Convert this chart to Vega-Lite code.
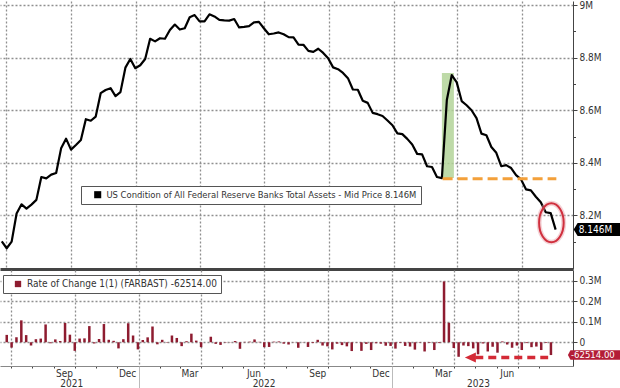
{
  "$schema": "https://vega.github.io/schema/vega-lite/v6.json",
  "padding": 0,
  "background": "white",
  "spacing": 1,
  "config": {
    "font": "Liberation Sans Narrow, DejaVu Sans Condensed, Liberation Sans, sans-serif",
    "view": {"stroke": null, "fill": null},
    "axis": {"labelFontSize": 10, "labelColor": "#333", "domainColor": "#444", "tickColor": "#444", "gridColor": "#8f8f8f", "gridDash": [2, 2], "gridWidth": 1.3, "gridOpacity": 1, "labelOverlap": false, "labelFlush": false, "labelBound": false}
  },
  "resolve": {"scale": {"color": "independent"}},
  "datasets": {
    "fed": [
      {"date": "2021-06-25", "assets": 8.101, "change": 0.036},
      {"date": "2021-07-02", "assets": 8.075, "change": -0.026},
      {"date": "2021-07-09", "assets": 8.100, "change": 0.025},
      {"date": "2021-07-16", "assets": 8.207, "change": 0.107},
      {"date": "2021-07-23", "assets": 8.242, "change": 0.035},
      {"date": "2021-07-30", "assets": 8.226, "change": -0.016},
      {"date": "2021-08-06", "assets": 8.241, "change": 0.015},
      {"date": "2021-08-13", "assets": 8.259, "change": 0.018},
      {"date": "2021-08-20", "assets": 8.346, "change": 0.087},
      {"date": "2021-08-27", "assets": 8.341, "change": -0.005},
      {"date": "2021-09-03", "assets": 8.355, "change": 0.014},
      {"date": "2021-09-10", "assets": 8.361, "change": 0.006},
      {"date": "2021-09-17", "assets": 8.455, "change": 0.094},
      {"date": "2021-09-24", "assets": 8.492, "change": 0.037},
      {"date": "2021-10-01", "assets": 8.450, "change": -0.042},
      {"date": "2021-10-08", "assets": 8.468, "change": 0.018},
      {"date": "2021-10-15", "assets": 8.487, "change": 0.019},
      {"date": "2021-10-22", "assets": 8.566, "change": 0.079},
      {"date": "2021-10-29", "assets": 8.560, "change": -0.006},
      {"date": "2021-11-05", "assets": 8.576, "change": 0.016},
      {"date": "2021-11-12", "assets": 8.665, "change": 0.089},
      {"date": "2021-11-19", "assets": 8.677, "change": 0.012},
      {"date": "2021-11-26", "assets": 8.684, "change": 0.007},
      {"date": "2021-12-03", "assets": 8.654, "change": -0.030},
      {"date": "2021-12-10", "assets": 8.669, "change": 0.015},
      {"date": "2021-12-17", "assets": 8.762, "change": 0.093},
      {"date": "2021-12-24", "assets": 8.795, "change": 0.033},
      {"date": "2021-12-31", "assets": 8.760, "change": -0.035},
      {"date": "2022-01-07", "assets": 8.771, "change": 0.011},
      {"date": "2022-01-14", "assets": 8.795, "change": 0.024},
      {"date": "2022-01-21", "assets": 8.872, "change": 0.077},
      {"date": "2022-01-28", "assets": 8.862, "change": -0.010},
      {"date": "2022-02-04", "assets": 8.874, "change": 0.012},
      {"date": "2022-02-11", "assets": 8.872, "change": -0.002},
      {"date": "2022-02-18", "assets": 8.905, "change": 0.033},
      {"date": "2022-02-25", "assets": 8.926, "change": 0.021},
      {"date": "2022-03-04", "assets": 8.907, "change": -0.019},
      {"date": "2022-03-11", "assets": 8.912, "change": 0.005},
      {"date": "2022-03-18", "assets": 8.954, "change": 0.042},
      {"date": "2022-03-25", "assets": 8.962, "change": 0.008},
      {"date": "2022-04-01", "assets": 8.938, "change": -0.024},
      {"date": "2022-04-08", "assets": 8.938, "change": 0.000},
      {"date": "2022-04-15", "assets": 8.965, "change": 0.027},
      {"date": "2022-04-22", "assets": 8.957, "change": -0.008},
      {"date": "2022-04-29", "assets": 8.944, "change": -0.013},
      {"date": "2022-05-06", "assets": 8.942, "change": -0.002},
      {"date": "2022-05-13", "assets": 8.941, "change": -0.001},
      {"date": "2022-05-20", "assets": 8.947, "change": 0.006},
      {"date": "2022-05-27", "assets": 8.915, "change": -0.032},
      {"date": "2022-06-03", "assets": 8.917, "change": 0.002},
      {"date": "2022-06-10", "assets": 8.920, "change": 0.003},
      {"date": "2022-06-17", "assets": 8.934, "change": 0.014},
      {"date": "2022-06-24", "assets": 8.936, "change": 0.002},
      {"date": "2022-07-01", "assets": 8.912, "change": -0.024},
      {"date": "2022-07-08", "assets": 8.889, "change": -0.023},
      {"date": "2022-07-15", "assets": 8.892, "change": 0.003},
      {"date": "2022-07-22", "assets": 8.896, "change": 0.004},
      {"date": "2022-07-29", "assets": 8.889, "change": -0.007},
      {"date": "2022-08-05", "assets": 8.878, "change": -0.011},
      {"date": "2022-08-12", "assets": 8.877, "change": -0.001},
      {"date": "2022-08-19", "assets": 8.850, "change": -0.027},
      {"date": "2022-08-26", "assets": 8.849, "change": -0.001},
      {"date": "2022-09-02", "assets": 8.826, "change": -0.023},
      {"date": "2022-09-09", "assets": 8.822, "change": -0.004},
      {"date": "2022-09-16", "assets": 8.834, "change": 0.012},
      {"date": "2022-09-23", "assets": 8.818, "change": -0.016},
      {"date": "2022-09-30", "assets": 8.798, "change": -0.020},
      {"date": "2022-10-07", "assets": 8.763, "change": -0.035},
      {"date": "2022-10-14", "assets": 8.756, "change": -0.007},
      {"date": "2022-10-21", "assets": 8.742, "change": -0.014},
      {"date": "2022-10-28", "assets": 8.722, "change": -0.020},
      {"date": "2022-11-04", "assets": 8.679, "change": -0.043},
      {"date": "2022-11-11", "assets": 8.678, "change": -0.001},
      {"date": "2022-11-18", "assets": 8.636, "change": -0.042},
      {"date": "2022-11-25", "assets": 8.628, "change": -0.008},
      {"date": "2022-12-02", "assets": 8.590, "change": -0.038},
      {"date": "2022-12-09", "assets": 8.585, "change": -0.005},
      {"date": "2022-12-16", "assets": 8.578, "change": -0.007},
      {"date": "2022-12-23", "assets": 8.561, "change": -0.017},
      {"date": "2022-12-30", "assets": 8.543, "change": -0.018},
      {"date": "2023-01-06", "assets": 8.512, "change": -0.031},
      {"date": "2023-01-13", "assets": 8.509, "change": -0.003},
      {"date": "2023-01-20", "assets": 8.491, "change": -0.018},
      {"date": "2023-01-27", "assets": 8.470, "change": -0.021},
      {"date": "2023-02-03", "assets": 8.434, "change": -0.036},
      {"date": "2023-02-10", "assets": 8.432, "change": -0.002},
      {"date": "2023-02-17", "assets": 8.387, "change": -0.045},
      {"date": "2023-02-24", "assets": 8.384, "change": -0.003},
      {"date": "2023-03-03", "assets": 8.346, "change": -0.038},
      {"date": "2023-03-10", "assets": 8.342, "change": -0.004},
      {"date": "2023-03-17", "assets": 8.639, "change": 0.297},
      {"date": "2023-03-24", "assets": 8.734, "change": 0.095},
      {"date": "2023-03-31", "assets": 8.706, "change": -0.028},
      {"date": "2023-04-07", "assets": 8.635, "change": -0.071},
      {"date": "2023-04-14", "assets": 8.619, "change": -0.016},
      {"date": "2023-04-21", "assets": 8.600, "change": -0.019},
      {"date": "2023-04-28", "assets": 8.570, "change": -0.030},
      {"date": "2023-05-05", "assets": 8.511, "change": -0.059},
      {"date": "2023-05-12", "assets": 8.505, "change": -0.006},
      {"date": "2023-05-19", "assets": 8.460, "change": -0.045},
      {"date": "2023-05-26", "assets": 8.438, "change": -0.022},
      {"date": "2023-06-02", "assets": 8.387, "change": -0.051},
      {"date": "2023-06-09", "assets": 8.391, "change": 0.004},
      {"date": "2023-06-16", "assets": 8.380, "change": -0.011},
      {"date": "2023-06-23", "assets": 8.353, "change": -0.027},
      {"date": "2023-06-30", "assets": 8.337, "change": -0.016},
      {"date": "2023-07-07", "assets": 8.299, "change": -0.038},
      {"date": "2023-07-14", "assets": 8.295, "change": -0.004},
      {"date": "2023-07-21", "assets": 8.271, "change": -0.024},
      {"date": "2023-07-28", "assets": 8.250, "change": -0.021},
      {"date": "2023-08-04", "assets": 8.212, "change": -0.038},
      {"date": "2023-08-11", "assets": 8.2085, "change": -0.0035},
      {"date": "2023-08-18", "assets": 8.146, "change": -0.062514}
    ],
    "shade": [{"start": "2023-03-10", "end": "2023-03-27", "lo": 8.342, "hi": 8.742}],
    "level": [{"start": "2023-03-11", "end": "2023-08-19", "level": 8.339}],
    "circle": [{"date": "2023-08-12", "value": 8.172}],
    "arrow": [{"tip": "2023-04-16", "start": "2023-05-01", "end": "2023-08-14", "level": -0.075}],
    "last": [{"date": "2023-08-18", "assets": 8.146, "change": -0.062514, "assetsLabel": "8.146M", "changeLabel": "-62514.00"}]
  },
  "vconcat": [
    {
      "width": 573,
      "height": 268,
      "resolve": {"axis": {"x": "independent", "y": "independent"}},
      "layer": [
        {
          "data": {"name": "shade"},
          "mark": {"type": "rect", "color": "#b3d399", "opacity": 0.85},
          "encoding": {
            "x": {
              "field": "start", "type": "temporal",
              "scale": {"type": "utc", "domain": [{"year": 2021, "month": 6, "date": 22, "hours": 12, "utc": true}, {"year": 2023, "month": 9, "date": 11, "hours": 14, "utc": true}]},
              "axis": {
                "orient": "bottom", "title": null, "labels": false, "ticks": false,
                "domain": true, "domainWidth": 3, "domainColor": "#444", "grid": true,
                "values": [
                  {"year": 2021, "month": 7, "date": 1, "utc": true},
                  {"year": 2021, "month": 10, "date": 1, "utc": true},
                  {"year": 2022, "month": 1, "date": 1, "utc": true},
                  {"year": 2022, "month": 4, "date": 1, "utc": true},
                  {"year": 2022, "month": 7, "date": 1, "utc": true},
                  {"year": 2022, "month": 10, "date": 1, "utc": true},
                  {"year": 2023, "month": 1, "date": 1, "utc": true},
                  {"year": 2023, "month": 4, "date": 1, "utc": true},
                  {"year": 2023, "month": 7, "date": 1, "utc": true}
                ]
              }
            },
            "x2": {"field": "end"},
            "y": {
              "field": "lo", "type": "quantitative",
              "scale": {"domain": [7.996, 9.0156], "nice": false, "zero": false},
              "axis": {
                "orient": "right", "title": null,
                "values": [8.2, 8.4, 8.6, 8.8, 9],
                "labelExpr": "format(datum.value, '~r') + 'M'",
                "grid": true, "tickSize": 4, "labelPadding": 2
              }
            },
            "y2": {"field": "hi"}
          }
        },
        {
          "data": {"name": "fed"},
          "mark": {"type": "line", "color": "#000", "strokeWidth": 2.2, "strokeJoin": "round"},
          "encoding": {
            "x": {"field": "date", "type": "temporal", "axis": null},
            "y": {
              "field": "assets", "type": "quantitative",
              "axis": {"orient": "right", "title": null, "values": [8.1, 8.3, 8.5, 8.7, 8.9], "labels": false, "grid": false, "domain": false, "tickSize": 2.5}
            }
          }
        },
        {
          "data": {"name": "level"},
          "mark": {"type": "rule", "color": "#f3a03a", "strokeWidth": 3, "strokeDash": [10, 5]},
          "encoding": {
            "x": {"field": "start", "type": "temporal", "axis": null},
            "x2": {"field": "end"},
            "y": {"field": "level", "type": "quantitative", "axis": null}
          }
        },
        {
          "data": {"name": "circle"},
          "mark": {"type": "point", "shape": "M-12.3,0 A12.3,19.5 0 1,1 12.3,0 A12.3,19.5 0 1,1 -12.3,0 Z", "size": 4, "filled": false, "color": "#e8a0a8", "strokeWidth": 5, "opacity": 0.45},
          "encoding": {
            "x": {"field": "date", "type": "temporal", "axis": null},
            "y": {"field": "value", "type": "quantitative", "axis": null}
          }
        },
        {
          "data": {"name": "circle"},
          "mark": {"type": "point", "shape": "M-12.3,0 A12.3,19.5 0 1,1 12.3,0 A12.3,19.5 0 1,1 -12.3,0 Z", "size": 4, "filled": false, "color": "#d0303e", "strokeWidth": 2, "opacity": 1},
          "encoding": {
            "x": {"field": "date", "type": "temporal", "axis": null},
            "y": {"field": "value", "type": "quantitative", "axis": null}
          }
        },
        {
          "data": {"name": "last"},
          "mark": {"type": "point", "shape": "M18,0 L22,-6.5 L70,-6.5 L70,6.5 L22,6.5 Z", "size": 4, "filled": true, "opacity": 1},
          "encoding": {
            "x": {"field": "date", "type": "temporal", "axis": null},
            "y": {"field": "assets", "type": "quantitative", "axis": null},
            "color": {
              "datum": "US Condition of All Federal Reserve Banks Total Assets - Mid Price 8.146M",
              "scale": {"range": ["#000000"]},
              "legend": {
                "orient": "none", "legendX": 81, "legendY": 185, "title": null, "zindex": 2,
                "symbolType": "square", "symbolSize": 50, "symbolOffset": 8,
                "labelFontSize": 9.4, "labelColor": "#333", "labelLimit": 600,
                "strokeColor": "#555", "fillColor": "#fff", "padding": 4
              }
            }
          }
        },
        {
          "data": {"name": "last"},
          "mark": {"type": "text", "align": "left", "baseline": "middle", "dx": 23, "color": "#fff", "fontSize": 10},
          "encoding": {
            "x": {"field": "date", "type": "temporal", "axis": null},
            "y": {"field": "assets", "type": "quantitative", "axis": null},
            "text": {"field": "assetsLabel"}
          }
        }
      ]
    },
    {
      "width": 573,
      "height": 96,
      "resolve": {"axis": {"x": "independent", "y": "independent"}},
      "layer": [
        {
          "data": {"name": "fed"},
          "mark": {"type": "bar", "size": 2.5},
          "encoding": {
            "x": {
              "field": "date", "type": "temporal",
              "scale": {"type": "utc", "domain": [{"year": 2021, "month": 6, "date": 22, "hours": 12, "utc": true}, {"year": 2023, "month": 9, "date": 11, "hours": 14, "utc": true}]},
              "axis": {
                "orient": "bottom", "title": null, "grid": false,
                "values": [
                  {"year": 2021, "month": 7, "date": 1, "utc": true},
                  {"year": 2021, "month": 8, "date": 1, "utc": true},
                  {"year": 2021, "month": 9, "date": 1, "utc": true},
                  {"year": 2021, "month": 10, "date": 1, "utc": true},
                  {"year": 2021, "month": 11, "date": 1, "utc": true},
                  {"year": 2021, "month": 12, "date": 1, "utc": true},
                  {"year": 2022, "month": 1, "date": 1, "utc": true},
                  {"year": 2022, "month": 2, "date": 1, "utc": true},
                  {"year": 2022, "month": 3, "date": 1, "utc": true},
                  {"year": 2022, "month": 4, "date": 1, "utc": true},
                  {"year": 2022, "month": 5, "date": 1, "utc": true},
                  {"year": 2022, "month": 6, "date": 1, "utc": true},
                  {"year": 2022, "month": 7, "date": 1, "utc": true},
                  {"year": 2022, "month": 8, "date": 1, "utc": true},
                  {"year": 2022, "month": 9, "date": 1, "utc": true},
                  {"year": 2022, "month": 10, "date": 1, "utc": true},
                  {"year": 2022, "month": 11, "date": 1, "utc": true},
                  {"year": 2022, "month": 12, "date": 1, "utc": true},
                  {"year": 2023, "month": 1, "date": 1, "utc": true},
                  {"year": 2023, "month": 2, "date": 1, "utc": true},
                  {"year": 2023, "month": 3, "date": 1, "utc": true},
                  {"year": 2023, "month": 4, "date": 1, "utc": true},
                  {"year": 2023, "month": 5, "date": 1, "utc": true},
                  {"year": 2023, "month": 6, "date": 1, "utc": true},
                  {"year": 2023, "month": 7, "date": 1, "utc": true},
                  {"year": 2023, "month": 8, "date": 1, "utc": true}
                ],
                "labelExpr": "utcmonth(datum.value) % 3 == 2 ? utcFormat(datum.value, '%b') : ''",
                "labelOffset": 10, "labelPadding": 0, "tickSize": 2, "domainColor": "#888"
              }
            },
            "y": {
              "field": "change", "type": "quantitative", "stack": null,
              "scale": {"domain": [-0.116, 0.353], "nice": false, "zero": false},
              "axis": {
                "orient": "right", "title": null,
                "values": [0, 0.1, 0.2, 0.3],
                "labelExpr": "datum.value == 0 ? '0' : format(datum.value, '.1f') + 'M'",
                "grid": true, "tickSize": 4, "labelPadding": 2
              }
            },
            "color": {
              "datum": "Rate of Change 1(1) (FARBAST) -62514.00",
              "scale": {"range": ["#8e1c30"]},
              "legend": {
                "orient": "none", "legendX": 3, "legendY": 5, "title": null, "zindex": 2,
                "symbolType": "square", "symbolSize": 40, "symbolOffset": 6,
                "labelFontSize": 10, "labelColor": "#333", "labelLimit": 600,
                "strokeColor": "#555", "fillColor": "#fff", "padding": 4
              }
            }
          }
        },
        {
          "data": {"name": "arrow"},
          "mark": {"type": "rule", "color": "#d42a36", "strokeWidth": 3.5, "strokeDash": [8, 5]},
          "encoding": {
            "x": {
              "field": "start", "type": "temporal",
              "axis": {
                "orient": "bottom", "title": null, "domain": false, "ticks": false, "tickSize": 0, "grid": false,
                "values": [
                  {"year": 2021, "month": 9, "date": 26, "utc": true},
                  {"year": 2022, "month": 6, "date": 30, "utc": true},
                  {"year": 2023, "month": 5, "date": 5, "utc": true}
                ],
                "labelExpr": "utcFormat(datum.value, '%Y')",
                "labelPadding": 12
              }
            },
            "x2": {"field": "end"},
            "y": {"field": "level", "type": "quantitative", "axis": null}
          }
        },
        {
          "data": {"name": "arrow"},
          "mark": {"type": "point", "shape": "M0,0 L11,-5 L11,5 Z", "size": 4, "filled": true, "color": "#d42a36", "opacity": 1},
          "encoding": {
            "x": {
              "field": "tip", "type": "temporal",
              "axis": {
                "orient": "bottom", "title": null, "domain": false, "labels": false, "grid": false,
                "ticks": true, "tickSize": 22, "tickColor": "#bbbbbb",
                "values": [
                  {"year": 2022, "month": 1, "date": 1, "utc": true},
                  {"year": 2023, "month": 1, "date": 1, "utc": true}
                ]
              }
            },
            "y": {"field": "level", "type": "quantitative", "axis": null}
          }
        },
        {
          "data": {"name": "last"},
          "mark": {"type": "point", "shape": "M17,0 L19.5,-4.7 L70,-4.7 L70,4.7 L19.5,4.7 Z", "size": 4, "filled": true, "color": "#b31d36", "opacity": 1},
          "encoding": {
            "x": {
              "field": "date", "type": "temporal",
              "axis": {
                "orient": "bottom", "title": null, "domain": false, "labels": false, "ticks": false, "grid": true,
                "values": [
                  {"year": 2021, "month": 7, "date": 1, "utc": true},
                  {"year": 2021, "month": 10, "date": 1, "utc": true},
                  {"year": 2022, "month": 1, "date": 1, "utc": true},
                  {"year": 2022, "month": 4, "date": 1, "utc": true},
                  {"year": 2022, "month": 7, "date": 1, "utc": true},
                  {"year": 2022, "month": 10, "date": 1, "utc": true},
                  {"year": 2023, "month": 1, "date": 1, "utc": true},
                  {"year": 2023, "month": 4, "date": 1, "utc": true},
                  {"year": 2023, "month": 7, "date": 1, "utc": true}
                ]
              }
            },
            "y": {"field": "change", "type": "quantitative", "axis": null}
          }
        },
        {
          "data": {"name": "last"},
          "mark": {"type": "text", "align": "left", "baseline": "middle", "dx": 20, "color": "#fff", "fontSize": 9.5},
          "encoding": {
            "x": {"field": "date", "type": "temporal", "axis": null},
            "y": {"field": "change", "type": "quantitative", "axis": null},
            "text": {"field": "changeLabel"}
          }
        }
      ]
    }
  ]
}
